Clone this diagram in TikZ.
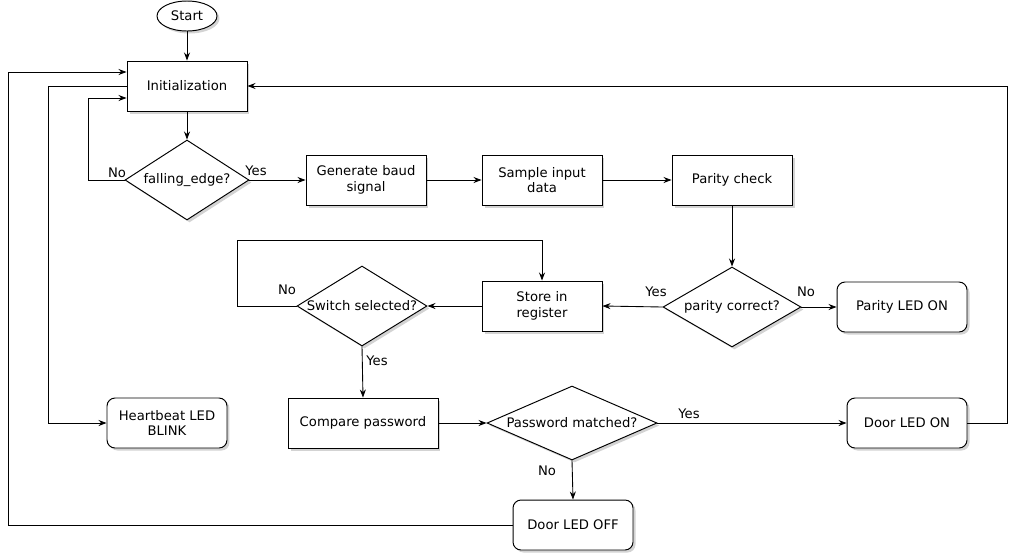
\documentclass[tikz,border=0pt]{standalone}
\usepackage{fontspec}
\setmainfont{DejaVu Sans}
\usetikzlibrary{shapes.geometric,shadows,arrows.meta}
\begin{document}
\begin{tikzpicture}[x=0.02cm,y=-0.02cm,
  font=\fontsize{7.5}{9}\selectfont,
  shad/.style={drop shadow={opacity=0.35,shadow xshift=0.05cm,shadow yshift=-0.05cm}},
  proc/.style={draw,fill=white,line width=0.55pt,minimum width=2.4cm,minimum height=1cm,align=center,inner sep=1pt,shad},
  rproc/.style={proc,rounded corners=0.16cm},
  dec/.style={draw,fill=white,diamond,line width=0.55pt,inner sep=0pt,shad},
  term/.style={draw,fill=white,ellipse,line width=0.55pt,minimum width=1.2cm,minimum height=0.6cm,inner sep=0pt,shad},
  arr/.style={draw,line width=0.5pt,-{Stealth[length=0.16cm,width=0.12cm]}},
  lbl/.style={inner sep=0pt}]
\useasboundingbox (0,0) rectangle (1016,555);
\node[term] (start) at (187,16) {Start};
\node[proc] (init) at (187,86) {Initialization};
\node[dec,minimum width=2.48cm,minimum height=1.6cm] (fe) at (187,180) {\makebox[0pt]{falling\_edge?}};
\node[proc] (gen) at (366,180) {Generate baud\\signal};
\node[proc] (samp) at (542,180) {Sample input\\data};
\node[proc] (pchk) at (732,180) {Parity check};
\node[dec,minimum width=2.76cm,minimum height=1.6cm] (pc) at (732,307) {\makebox[0pt]{parity correct?}};
\node[rproc,minimum width=2.6cm] (pled) at (902,307) {Parity LED ON};
\node[proc] (store) at (542,306) {Store in\\register};
\node[dec,minimum width=2.6cm,minimum height=1.6cm] (sw) at (362,306) {\makebox[0pt]{Switch selected?}};
\node[proc,minimum width=3cm] (cmp) at (363,423) {Compare password};
\node[dec,minimum width=3.4cm,minimum height=1.48cm] (pm) at (572,423) {\makebox[0pt]{Password matched?}};
\node[rproc] (don) at (907,423) {Door LED ON};
\node[rproc] (doff) at (573,525) {Door LED OFF};
\node[rproc] (hb) at (167,423) {Heartbeat LED\\BLINK};

\draw[arr] (start) -- (init);
\draw[arr] (init) -- (fe);
\draw[arr] (fe.west) -- (88,180) -- (88,98) -- (init.west |- 0,98);
\draw[arr] (fe.east) -- (gen.west);
\draw[arr] (gen) -- (samp);
\draw[arr] (samp) -- (pchk);
\draw[arr] (pchk) -- (pc);
\draw[arr] (pc.west) -- (store.east);
\draw[arr] (pc.east) -- (pled.west);
\draw[arr] (store.west) -- (sw.east);
\draw[arr] (sw.west) -- (237,306) -- (237,240) -- (542,240) -- (store.north);
\draw[arr] (sw.south) -- (cmp.north);
\draw[arr] (cmp.east) -- (pm.west);
\draw[arr] (pm.east) -- (don.west);
\draw[arr] (pm.south) -- (doff.north);
\draw[arr] (don.east) -- (1007,423) -- (1007,86) -- (init.east);
\draw[arr] (doff.west) -- (8,525) -- (8,72) -- (init.west |- 0,72);
\draw[arr] (init.west) -- (48,86) -- (48,423) -- (hb.west);

\node[lbl] (l1) at (117,173) {No};
\node[lbl] (l2) at (256,171) {Yes};
\node[lbl] (l3) at (656,292) {Yes};
\node[lbl] (l4) at (806,292) {No};
\node[lbl] (l5) at (287,290) {No};
\node[lbl] (l6) at (377,361) {Yes};
\node[lbl] (l7) at (689,414) {Yes};
\node[lbl] (l8) at (547,471) {No};
\end{tikzpicture}
\end{document}
